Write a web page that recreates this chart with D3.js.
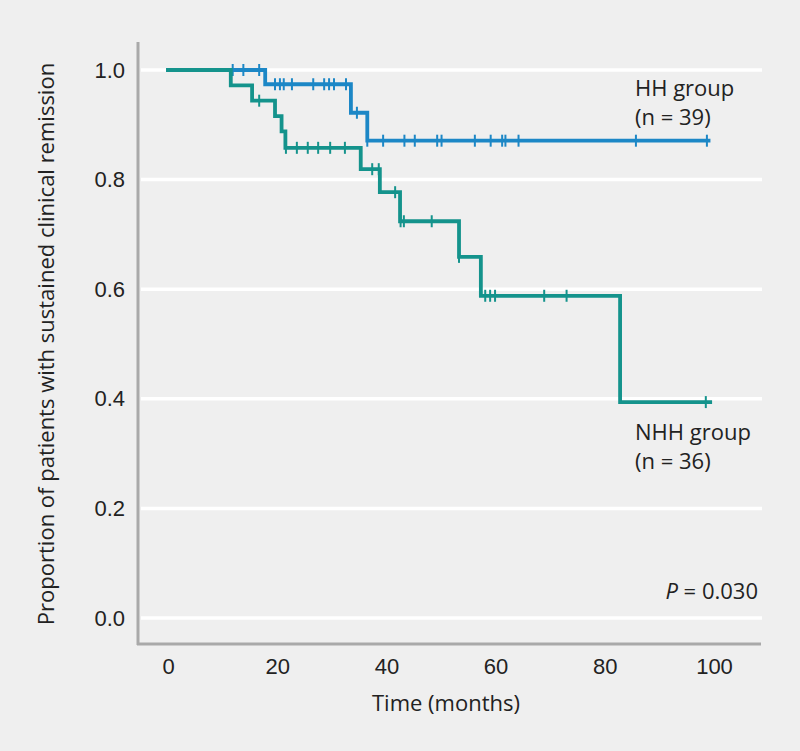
<!DOCTYPE html>
<html><head><meta charset="utf-8">
<script src="https://cdn.jsdelivr.net/npm/d3@7"></script>
<style>
html,body{margin:0;padding:0;background:#efefef;}
svg{display:block;font-family:"Open Sans","Noto Sans",sans-serif;}
</style></head>
<body>
<script>
// ---- data ----
const xTicks = [0, 20, 40, 60, 80, 100];
const yTicks = [0.0, 0.2, 0.4, 0.6, 0.8, 1.0];
// step curves: [time, survival] at each change, last point = end of follow-up
const hhSteps = [[0,1.0],[17.8,0.974],[33.5,0.922],[36.5,0.871],[99,0.871]];
const hhCensor = [11.85,13.8,16.7,19.6,20.5,21.2,22.7,26.6,28.6,29.5,30.4,32.6,34.6,36.5,39.4,43.3,45.2,49.3,50.1,56.2,59.1,61.2,61.8,64.2,85.7,98.7];
const nhhSteps = [[0,1.0],[11.5,0.972],[15.4,0.944],[19.6,0.916],[20.8,0.888],[21.5,0.858],[35.3,0.819],[38.8,0.777],[42.5,0.724],[53.3,0.659],[57.3,0.588],[82.8,0.394],[99.3,0.394]];
const nhhCensor = [16.7,21.6,23.6,25.6,27.5,29.7,32.4,37.4,38.6,41.6,42.6,43.2,48.3,53.3,58.1,59.0,59.9,68.9,73.0,98.5];
const groups = [
  {name:"HH group", n:"(n = 39)", steps:hhSteps, censor:hhCensor, color:"#1c87c6"},
  {name:"NHH group", n:"(n = 36)", steps:nhhSteps, censor:nhhCensor, color:"#14938c"}
];
const pText = "= 0.030";

const W = 800, H = 751, FS = 22;
const svg = d3.select("body").append("svg").attr("width", W).attr("height", H);
svg.append("rect").attr("width", W).attr("height", H).attr("fill", "#efefef");

const x = d3.scaleLinear().domain([0, 100]).range([168, 714]);
const y = d3.scaleLinear().domain([0, 1]).range([618, 70]);

// gridlines
svg.append("g").selectAll("line").data(yTicks).join("line")
  .attr("x1", 141).attr("x2", 762)
  .attr("y1", d => y(d)).attr("y2", d => y(d))
  .attr("stroke", "#ffffff").attr("stroke-width", 3.5);

// axis frame lines
svg.append("line").attr("x1", 138).attr("x2", 138).attr("y1", 42).attr("y2", 645)
  .attr("stroke", "#a9a9a9").attr("stroke-width", 3);
svg.append("line").attr("x1", 137).attr("x2", 761).attr("y1", 644).attr("y2", 644)
  .attr("stroke", "#a9a9a9").attr("stroke-width", 3);

// axes (labels only)
const yAxis = d3.axisLeft(y).tickValues(yTicks).tickFormat(d3.format(".1f")).tickSize(0).tickPadding(0);
const gy = svg.append("g").attr("transform", "translate(125,0)").call(yAxis);
gy.select(".domain").remove();
gy.selectAll("text").attr("font-size", FS).attr("fill", "#222").attr("font-family", "inherit");

const xAxis = d3.axisBottom(x).tickValues(xTicks).tickSize(0).tickPadding(0);
const gx = svg.append("g").attr("transform", "translate(0,658)").call(xAxis);
gx.select(".domain").remove();
gx.selectAll("text").attr("font-size", FS).attr("fill", "#222").attr("font-family", "inherit");

// axis titles
svg.append("text").attr("x", 446).attr("y", 711).attr("text-anchor", "middle")
  .attr("font-size", FS).attr("fill", "#222").text("Time (months)");
svg.append("text").attr("transform", "translate(54,344) rotate(-90)").attr("text-anchor", "middle")
  .attr("font-size", FS).attr("fill", "#222").text("Proportion of patients with sustained clinical remission");

// curves
const line = d3.line().x(d => x(d[0])).y(d => y(d[1])).curve(d3.curveStepAfter);
function survAt(steps, t){
  let v = steps[0][1];
  for (const s of steps){ if (s[0] <= t) v = s[1]; }
  return v;
}
groups.forEach(g => {
  svg.append("path").datum(g.steps).attr("d", line)
    .attr("fill", "none").attr("stroke", g.color).attr("stroke-width", 3.8)
    .attr("stroke-linejoin", "miter").attr("stroke-linecap", "square");
  svg.append("g").selectAll("line").data(g.censor).join("line")
    .attr("x1", d => x(d)).attr("x2", d => x(d))
    .attr("y1", d => y(survAt(g.steps, d)) - 6).attr("y2", d => y(survAt(g.steps, d)) + 6)
    .attr("stroke", g.color).attr("stroke-width", 2);
});

// legends
const lab = [
  {g:groups[0], y1:96, y2:125},
  {g:groups[1], y1:440, y2:469}
];
lab.forEach(l => {
  svg.append("text").attr("x", 635).attr("y", l.y1).attr("font-size", FS).attr("fill", "#222").text(l.g.name);
  svg.append("text").attr("x", 635).attr("y", l.y2).attr("font-size", FS).attr("fill", "#222").text(l.g.n);
});

const pt = svg.append("text").attr("x", 758).attr("y", 599).attr("text-anchor", "end")
  .attr("font-size", FS).attr("fill", "#222");
pt.append("tspan").attr("font-style", "italic").text("P");
pt.append("tspan").text(" " + pText);
</script>
</body></html>
